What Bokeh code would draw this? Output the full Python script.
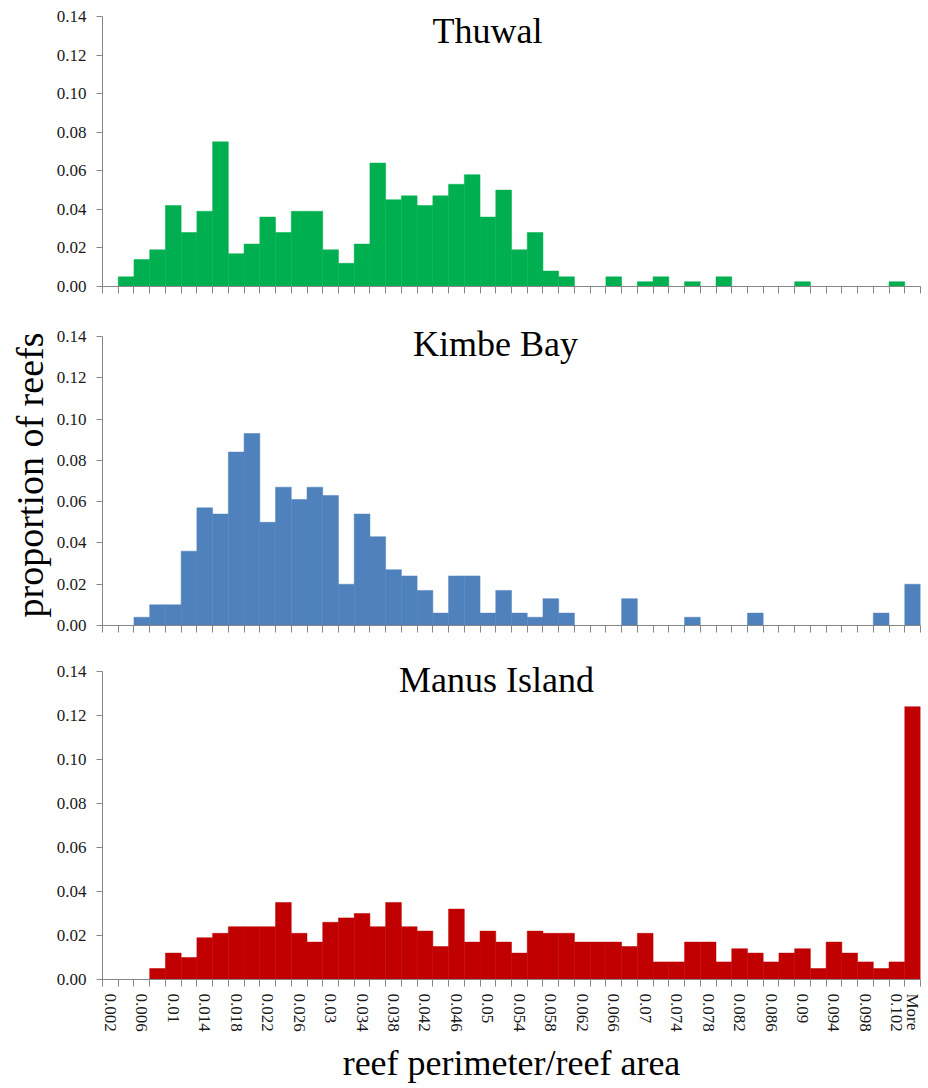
from bokeh.plotting import figure
from bokeh.layouts import column
from bokeh.models import Range1d, FixedTicker, PrintfTickFormatter, Label
from bokeh.embed import file_html
from bokeh.resources import INLINE

# ---------------- data ----------------
categories = ["0.002", "0.004", "0.006", "0.008", "0.01", "0.012", "0.014", "0.016",
              "0.018", "0.02", "0.022", "0.024", "0.026", "0.028", "0.03", "0.032",
              "0.034", "0.036", "0.038", "0.04", "0.042", "0.044", "0.046", "0.048",
              "0.05", "0.052", "0.054", "0.056", "0.058", "0.06", "0.062", "0.064",
              "0.066", "0.068", "0.07", "0.072", "0.074", "0.076", "0.078", "0.08",
              "0.082", "0.084", "0.086", "0.088", "0.09", "0.092", "0.094", "0.096",
              "0.098", "0.1", "0.102", "More"]

thuwal = [0, 0.005, 0.014, 0.019, 0.042, 0.028, 0.039, 0.075, 0.017, 0.022,
          0.036, 0.028, 0.039, 0.039, 0.019, 0.012, 0.022, 0.064, 0.045, 0.047,
          0.042, 0.047, 0.053, 0.058, 0.036, 0.050, 0.019, 0.028, 0.008, 0.005,
          0, 0, 0.005, 0, 0.0025, 0.005, 0, 0.0025, 0, 0.005,
          0, 0, 0, 0, 0.0025, 0, 0, 0, 0, 0,
          0.0025, 0]

kimbe = [0, 0, 0.004, 0.010, 0.010, 0.036, 0.057, 0.054, 0.084, 0.093,
         0.050, 0.067, 0.061, 0.067, 0.063, 0.020, 0.054, 0.043, 0.027, 0.024,
         0.017, 0.006, 0.024, 0.024, 0.006, 0.017, 0.006, 0.004, 0.013, 0.006,
         0, 0, 0, 0.013, 0, 0, 0, 0.004, 0, 0,
         0, 0.006, 0, 0, 0, 0, 0, 0, 0, 0.006,
         0, 0.020]

manus = [0, 0, 0, 0.005, 0.012, 0.010, 0.019, 0.021, 0.024, 0.024,
         0.024, 0.035, 0.021, 0.017, 0.026, 0.028, 0.030, 0.024, 0.035, 0.024,
         0.022, 0.015, 0.032, 0.017, 0.022, 0.017, 0.012, 0.022, 0.021, 0.021,
         0.017, 0.017, 0.017, 0.015, 0.021, 0.008, 0.008, 0.017, 0.017, 0.008,
         0.014, 0.012, 0.008, 0.012, 0.014, 0.005, 0.017, 0.012, 0.008, 0.005,
         0.008, 0.124]

y_ticks = [0.00, 0.02, 0.04, 0.06, 0.08, 0.10, 0.12, 0.14]
y_max = 0.14

panel_titles = ["Thuwal", "Kimbe Bay", "Manus Island"]
colors = ["#00B050", "#4F81BD", "#C00000"]

# ---------------- helpers ----------------
idx = list(range(len(categories)))
n = len(categories)
boundaries = [i - 0.5 for i in range(n + 1)]
label_idx = [i for i in idx if i % 2 == 0 or categories[i] == "More"]

SERIF = "Liberation Serif"
AXIS_GREY = "#868686"
TXT = "#1a1a1a"


def make_panel(values, color, title, tx, ty, b_top, frame_h, headroom, b_bottom, bottom=False):
    # frame_h: pixel height of the 0..0.14 span; headroom: extra pixels above it
    y_end = y_max * (frame_h + headroom) / frame_h
    p = figure(frame_width=818, frame_height=frame_h + headroom,
               min_border_left=102, min_border_right=8,
               min_border_top=b_top - headroom, min_border_bottom=b_bottom,
               x_range=Range1d(-0.5, n - 0.5), y_range=Range1d(0, y_end),
               output_backend="svg", toolbar_location=None, tools="")
    p.vbar(x=idx, top=values, width=1.0, fill_color=color,
           line_color=color, line_width=0.5)
    p.xgrid.visible = False
    p.ygrid.visible = False
    p.outline_line_color = None
    p.background_fill_color = "white"
    p.border_fill_color = "white"

    # y axis
    ya = p.yaxis[0]
    ya.bounds = (0, y_max)
    ya.ticker = FixedTicker(ticks=y_ticks, minor_ticks=[])
    ya.formatter = PrintfTickFormatter(format="%.2f")
    ya.axis_line_color = AXIS_GREY
    ya.major_tick_line_color = AXIS_GREY
    ya.major_tick_out = 6
    ya.major_tick_in = 0
    ya.minor_tick_line_color = None
    ya.major_label_text_font = SERIF
    ya.major_label_text_font_size = "17px"
    ya.major_label_text_color = TXT
    ya.major_label_standoff = 10

    # x axis
    xa = p.xaxis[0]
    xa.axis_line_color = AXIS_GREY
    xa.major_tick_line_color = None
    xa.minor_tick_line_color = AXIS_GREY
    xa.minor_tick_out = 7
    xa.minor_tick_in = 0
    if bottom:
        xa.ticker = FixedTicker(ticks=label_idx, minor_ticks=boundaries)
        xa.major_label_overrides = {i: categories[i] for i in label_idx}
        xa.major_label_orientation = "vertical"
        xa.major_label_text_font = SERIF
        xa.major_label_text_font_size = "17px"
        xa.major_label_text_color = TXT
        xa.major_label_standoff = 7
    else:
        xa.ticker = FixedTicker(ticks=[], minor_ticks=boundaries)
        xa.major_label_text_font_size = "0px"

    p.add_layout(Label(x=tx, y=ty, text=title, text_font=SERIF,
                       text_font_size="36px", text_color="black",
                       text_align="center", text_baseline="alphabetic"))
    return p


p1 = make_panel(thuwal, colors[0], panel_titles[0], 23.97, 0.1325, 16, 270, 6, 34)
p2 = make_panel(kimbe, colors[1], panel_titles[1], 24.48, 0.1366, 16, 289, 12, 25)
p3 = make_panel(manus, colors[2], panel_titles[2], 24.55, 0.1360, 21, 308, 14, 109, bottom=True)

p2.yaxis[0].axis_label = "proportion of reefs"
p2.yaxis[0].axis_label_text_font = SERIF
p2.yaxis[0].axis_label_text_font_size = "38px"
p2.yaxis[0].axis_label_text_font_style = "normal"
p2.yaxis[0].axis_label_text_color = "black"
p2.yaxis[0].axis_label_standoff = 3

p3.xaxis[0].axis_label = "reef perimeter/reef area"
p3.xaxis[0].axis_label_text_font = SERIF
p3.xaxis[0].axis_label_text_font_size = "36px"
p3.xaxis[0].axis_label_text_font_style = "normal"
p3.xaxis[0].axis_label_text_color = "black"
p3.xaxis[0].axis_label_standoff = 8

layout = column(p1, p2, p3, spacing=0)

open("out.html", "w").write(file_html(layout, INLINE))
